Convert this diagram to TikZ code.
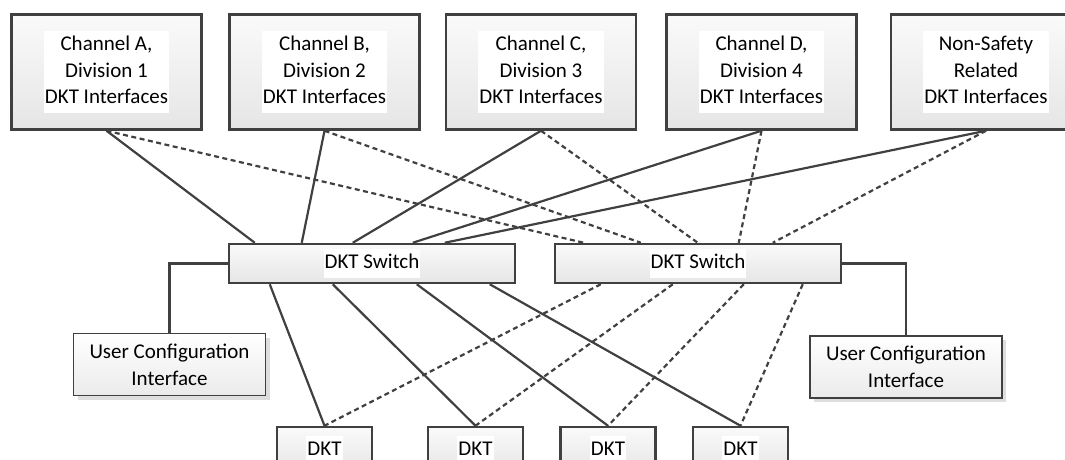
\documentclass[tikz,border=0pt]{standalone}
\usepackage{fontspec}
\setmainfont{Carlito}
\usepackage{tikz}
\usetikzlibrary{shadows, backgrounds}

\definecolor{edgegray}{HTML}{404040}
\newcommand{\wtext}[1]{{\setlength{\fboxsep}{1pt}\colorbox{white}{\begin{tabular}{@{}c@{}}#1\end{tabular}}}}

\begin{document}
\begin{tikzpicture}[x=1pt, y=-1pt,
        unit/.style={rectangle, draw=edgegray, line width=2.5pt, top color=black!2, bottom color=black!10, inner sep=0pt, font=\fontsize{21}{26.5}\selectfont},
        iface/.style={unit, minimum width=190pt, minimum height=115pt},
        switchbox/.style={unit, minimum width=286pt, minimum height=39pt},
        dkt/.style={unit, minimum width=95pt, minimum height=46pt},
        config/.style={unit, line width=1.3pt, top color=white, bottom color=black!8, minimum width=192pt, minimum height=62pt, align=center,
            drop shadow={shadow xshift=4pt, shadow yshift=-4pt, fill=black!13, opacity=1}},
        link/.style={draw=edgegray, line width=2.2pt},
        backup/.style={link, dash pattern=on 5pt off 3.5pt}
    ]
        \useasboundingbox (0,0) rectangle (1065,460);
        \clip (0,0) rectangle (1065,460);

        % Interface boxes
        \node[iface] (chA) at (106.5,72) {\wtext{Channel A,\\Division 1\\DKT Interfaces}};
        \node[iface] (chB) at (324.5,72) {\wtext{Channel B,\\Division 2\\DKT Interfaces}};
        \node[iface] (chC) at (541,72) {\wtext{Channel C,\\Division 3\\DKT Interfaces}};
        \node[iface] (chD) at (761.5,72) {\wtext{Channel D,\\Division 4\\DKT Interfaces}};
        \node[iface] (chN) at (986,72) {\wtext{Non-Safety\\Related\\DKT Interfaces}};

        % Switches
        \node[switchbox] (sw1) at (372,263.5) {\wtext{DKT Switch}};
        \node[switchbox] (sw2) at (698,263.5) {\wtext{DKT Switch}};

        % Configuration
        \node[config, font=\fontsize{21}{27}\selectfont] (cfg1) at (169.5,364.5) {User Configuration\\Interface};
        \node[config, font=\fontsize{21}{27}\selectfont] (cfg2) at (906,367) {User Configuration\\Interface};

        % Terminals
        \node[dkt] (dkt1) at (324.5,450) {\wtext{DKT}};
        \node[dkt] (dkt2) at (475.5,450) {\wtext{DKT}};
        \node[dkt] (dkt3) at (608,450) {\wtext{DKT}};
        \node[dkt] (dkt4) at (740.5,450) {\wtext{DKT}};

        \begin{scope}[on background layer]
            % Primary links
            \draw[link] (chA.south) -- ([xshift=27pt]sw1.north west);
            \draw[link] (chB.south) -- ([xshift=74pt]sw1.north west);
            \draw[link] (chC.south) -- ([xshift=125pt]sw1.north west);
            \draw[link] (chD.south) -- ([xshift=185pt]sw1.north west);
            \draw[link] (chN.south) -- ([xshift=217pt]sw1.north west);
            \draw[link] ([xshift=42pt]sw1.south west) -- (dkt1.north);
            \draw[link] ([xshift=105pt]sw1.south west) -- (dkt2.north);
            \draw[link] ([xshift=189pt]sw1.south west) -- (dkt3.north);
            \draw[link] ([xshift=262pt]sw1.south west) -- (dkt4.north);

            % Redundant links
            \draw[backup] (chA.south) -- ([xshift=30pt]sw2.north west);
            \draw[backup] (chB.south) -- ([xshift=87pt]sw2.north west);
            \draw[backup] (chC.south) -- ([xshift=144pt]sw2.north west);
            \draw[backup] (chD.south) -- ([xshift=185pt]sw2.north west);
            \draw[backup] (chN.south) -- ([xshift=219pt]sw2.north west);
            \draw[backup] ([xshift=47pt]sw2.south west) -- (dkt1.north);
            \draw[backup] ([xshift=119pt]sw2.south west) -- (dkt2.north);
            \draw[backup] ([xshift=190pt]sw2.south west) -- (dkt3.north);
            \draw[backup] ([xshift=249pt]sw2.south west) -- (dkt4.north);

            % Configuration links
            \draw[link] (sw1.west) -| (cfg1.north);
            \draw[link] (sw2.east) -| (cfg2.north);
        \end{scope}
    \end{tikzpicture}
\end{document}
